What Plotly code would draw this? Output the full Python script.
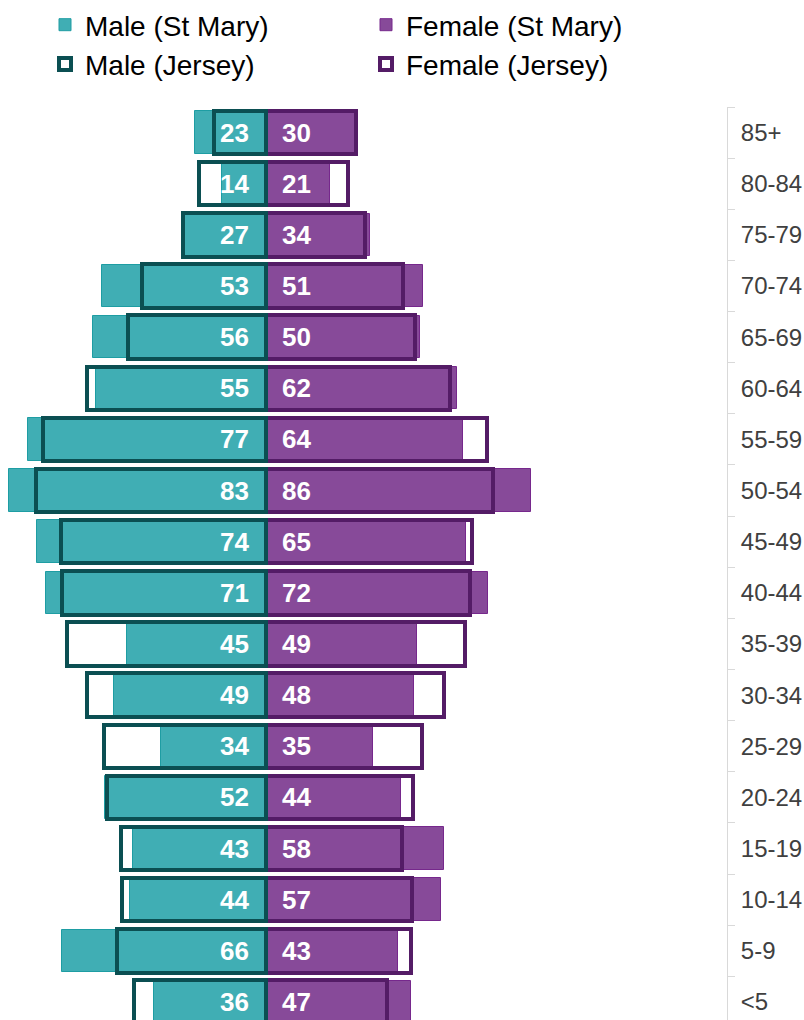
import plotly.graph_objects as go

# Age bands, top of the pyramid first
ages = ["85+", "80-84", "75-79", "70-74", "65-69", "60-64", "55-59", "50-54",
        "45-49", "40-44", "35-39", "30-34", "25-29", "20-24", "15-19", "10-14",
        "5-9", "<5"]

# Parish counts
male_st_mary = [23, 14, 27, 53, 56, 55, 77, 83, 74, 71, 45, 49, 34, 52, 43, 44, 66, 36]
female_st_mary = [30, 21, 34, 51, 50, 62, 64, 86, 65, 72, 49, 48, 35, 44, 58, 57, 43, 47]

# Island-wide profile rescaled to the parish total
male_jersey = [16.8, 21.5, 26.9, 40.0, 44.7, 57.8, 72.1, 74.4, 66.3, 65.9,
               64.3, 57.8, 52.4, 51.4, 46.7, 46.4, 48.1, 42.7]
female_jersey = [29.4, 26.9, 32.2, 44.7, 48.3, 59.9, 71.7, 73.7, 67.0, 66.3,
                 64.6, 57.7, 50.6, 47.8, 44.3, 47.5, 47.0, 39.3]

TEAL = "#40AEB4"
TEAL_EDGE = "#1E9DA3"
PURPLE = "#874A99"
PURPLE_EDGE = "#76288C"
TEAL_DARK = "#0B4F52"
PURPLE_DARK = "#541C66"
FONT = "Liberation Sans, Arial, sans-serif"

W, H = 804, 1020
M_L, M_R, M_T, M_B = 0, 77, 107, 0
PX_PER_UNIT = 3.085
ZERO_PX = 265.5
plot_w = W - M_L - M_R
plot_h = H - M_T - M_B
row_px = 51.14

x_range = [-(ZERO_PX - M_L) / PX_PER_UNIT, (M_L + plot_w - ZERO_PX) / PX_PER_UNIT]
rows_visible = plot_h / row_px
y_range = [-0.5 + rows_visible, -0.5]

fig = go.Figure()

fig.add_trace(go.Bar(
    name="Male (St Mary)", y=ages, x=[-v for v in male_st_mary],
    orientation="h", width=0.83, legendrank=1,
    marker=dict(color=TEAL, line=dict(color=TEAL_EDGE, width=1)),
    hoverinfo="skip",
))
fig.add_trace(go.Bar(
    name="Female (St Mary)", y=ages, x=female_st_mary,
    orientation="h", width=0.83, legendrank=2,
    marker=dict(color=PURPLE, line=dict(color=PURPLE_EDGE, width=1)),
    hoverinfo="skip",
))
fig.add_trace(go.Bar(
    name="Female (Jersey)", y=ages, x=female_jersey,
    orientation="h", width=0.85, legendrank=4,
    marker=dict(color="rgba(255,255,255,0)", line=dict(color=PURPLE_DARK, width=4)),
    hoverinfo="skip",
))
fig.add_trace(go.Bar(
    name="Male (Jersey)", y=ages, x=[-v for v in male_jersey],
    orientation="h", width=0.85, legendrank=3,
    marker=dict(color="rgba(255,255,255,0)", line=dict(color=TEAL_DARK, width=4)),
    hoverinfo="skip",
))

# Value labels either side of the centre line
label_font = dict(family=FONT, size=26, color="white")
for age, m, f in zip(ages, male_st_mary, female_st_mary):
    fig.add_annotation(x=0, y=age, text=f"<b>{m}</b>", showarrow=False,
                       xanchor="right", yanchor="middle", xshift=-15,
                       font=label_font)
    fig.add_annotation(x=0, y=age, text=f"<b>{f}</b>", showarrow=False,
                       xanchor="left", yanchor="middle", xshift=14,
                       font=label_font)

fig.update_layout(
    width=W, height=H,
    margin=dict(l=M_L, r=M_R, t=M_T, b=M_B, autoexpand=False),
    paper_bgcolor="white", plot_bgcolor="white",
    barmode="overlay", bargap=0,
    showlegend=True,
    legend=dict(
        orientation="h", xanchor="left", yanchor="top",
        x=45 / plot_w, y=1 + 107 / plot_h,
        entrywidth=276, entrywidthmode="pixels",
        traceorder="normal", itemclick=False, itemdoubleclick=False,
        font=dict(family=FONT, size=28, color="#000000"),
        bgcolor="rgba(0,0,0,0)",
    ),
    xaxis=dict(range=x_range, visible=False, fixedrange=True),
    yaxis=dict(
        type="category", categoryorder="array", categoryarray=ages,
        range=y_range, side="right", automargin=False,
        showline=True, linecolor="#D9D9D9", linewidth=1,
        ticks="outside", tickson="boundaries", ticklen=7, tickcolor="#D9D9D9",
        ticklabelstandoff=8,
        showgrid=False, zeroline=False, fixedrange=True,
        tickfont=dict(family=FONT, size=24, color="#404040"),
    ),
)

fig.write_html("out.html")
